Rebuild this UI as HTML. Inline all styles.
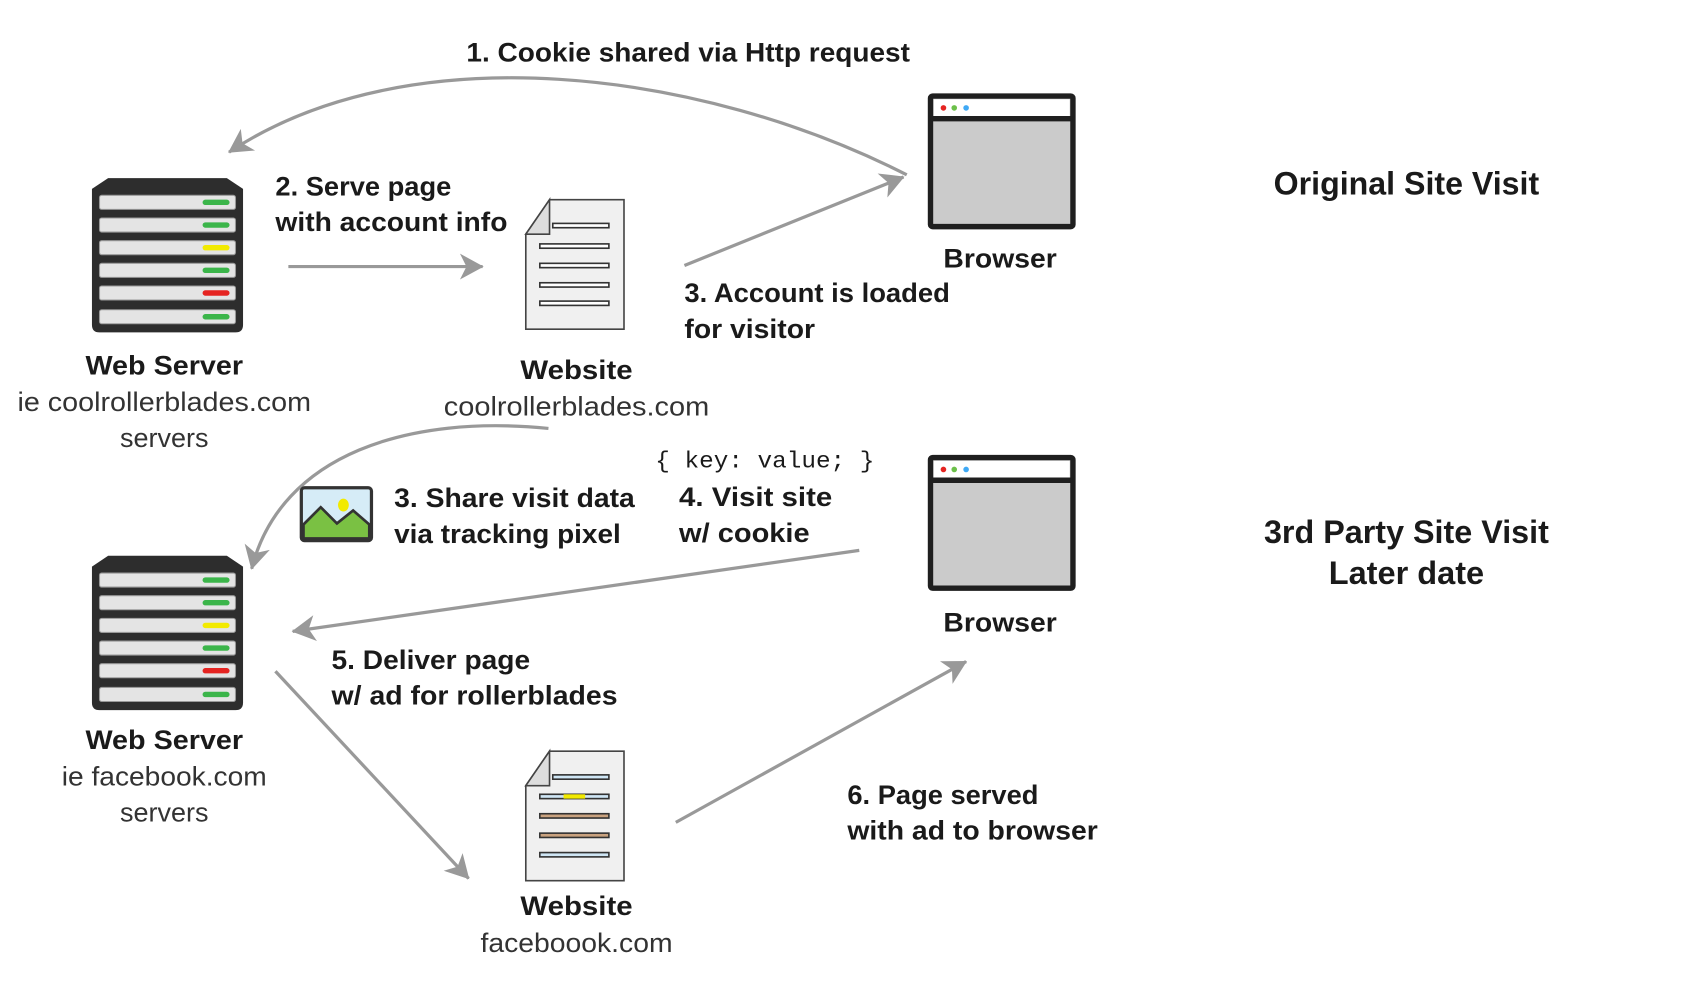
<!DOCTYPE html>
<html><head><meta charset="utf-8"><style>html,body{margin:0;padding:0;background:#fff;width:1684px;height:981px;overflow:hidden}</style></head><body>
<svg width="1684" height="981" viewBox="0 0 1560 909" xmlns="http://www.w3.org/2000/svg">
<defs>
<marker id="a" markerWidth="10" markerHeight="10" refX="7" refY="5" orient="auto" markerUnits="userSpaceOnUse" viewBox="0 0 10 10" style="overflow:visible">
<path d="M-14,-7 L8,5 L-14,17 L-8,5 Z" fill="#999"/>
</marker>
<g id="srv">
<path d="M100,0 L210,0 L225,10 L225,136 Q225,143 218,143 L92,143 Q85,143 85,136 L85,10 Z" fill="#2d2d2d"/>
<g fill="#e4e4e4" stroke="#999" stroke-width="1">
<rect x="92" y="16" width="126" height="13" rx="2"/><rect x="92" y="37" width="126" height="13" rx="2"/><rect x="92" y="58" width="126" height="13" rx="2"/><rect x="92" y="79" width="126" height="13" rx="2"/><rect x="92" y="100" width="126" height="13" rx="2"/><rect x="92" y="122" width="126" height="13" rx="2"/>
</g>
<g stroke-width="5" stroke-linecap="round">
<line x1="190" y1="22.5" x2="210" y2="22.5" stroke="#3bb54a"/><line x1="190" y1="43.5" x2="210" y2="43.5" stroke="#3bb54a"/><line x1="190" y1="64.5" x2="210" y2="64.5" stroke="#f2ea00"/><line x1="190" y1="85.5" x2="210" y2="85.5" stroke="#3bb54a"/><line x1="190" y1="106.5" x2="210" y2="106.5" stroke="#e52421"/><line x1="190" y1="128.5" x2="210" y2="128.5" stroke="#3bb54a"/>
</g>
</g>
<g id="brw">
<rect x="862" y="89" width="132" height="121" fill="#cbcbcb" stroke="#1f1f1f" stroke-width="5" rx="2"/>
<rect x="865" y="92" width="126" height="17" fill="#fff"/>
<line x1="862" y1="110" x2="994" y2="110" stroke="#1f1f1f" stroke-width="5"/>
<circle cx="874" cy="100" r="2.6" fill="#e52421"/><circle cx="884" cy="100" r="2.6" fill="#6cc04a"/><circle cx="895" cy="100" r="2.6" fill="#3fa9f5"/>
</g>
</defs>
<g fill="none" stroke="#999" stroke-width="3">
<path d="M840,162 C650,65 380,30 212,141" marker-end="url(#a)"/>
<path d="M267,247 L447,247" marker-end="url(#a)"/>
<path d="M634,246 L837,164" marker-end="url(#a)"/>
<path d="M508,397 C380,384 260,420 233,527" marker-end="url(#a)"/>
<path d="M796,510 L271,585" marker-end="url(#a)"/>
<path d="M255,622 L434,814" marker-end="url(#a)"/>
<path d="M626,762 L895,613" marker-end="url(#a)"/>
</g>
<use href="#srv" y="165"/>
<use href="#srv" y="515"/>
<use href="#brw"/>
<use href="#brw" y="335"/>
<g stroke="#444" stroke-width="1.5">
<path d="M509,185 L578,185 L578,305 L487,305 L487,217 Z" fill="#f0f0f0"/>
<path d="M509,185 L487,217 L509,217 Z" fill="#ddd"/>
</g>
<g fill="#fff" stroke="#333" stroke-width="1.5">
<rect x="512" y="207" width="52" height="4"/><rect x="500" y="226" width="64" height="4"/><rect x="500" y="244" width="64" height="4"/><rect x="500" y="262" width="64" height="4"/><rect x="500" y="279" width="64" height="4"/>
</g>
<g stroke="#444" stroke-width="1.5">
<path d="M509,696 L578,696 L578,816 L487,816 L487,728 Z" fill="#f0f0f0"/>
<path d="M509,696 L487,728 L509,728 Z" fill="#ddd"/>
</g>
<g stroke="#333" stroke-width="1.5">
<rect x="512" y="718" width="52" height="4" fill="#cfe6f5"/><rect x="500" y="736" width="64" height="4" fill="#cfe6f5"/><rect x="500" y="754" width="64" height="4" fill="#c9a27f"/><rect x="500" y="772" width="64" height="4" fill="#c9a27f"/><rect x="500" y="790" width="64" height="4" fill="#cfe6f5"/>
</g>
<rect x="522" y="736" width="20" height="4" fill="#f2ea00"/>
<rect x="279" y="452" width="65" height="49" rx="3" fill="#d6ecf7" stroke="#333" stroke-width="3"/>
<path d="M281,486 L297,470 L312,485 L327,473 L342,486 L342,499 L281,499 Z" fill="#7ac143" stroke="#333" stroke-width="2.5"/>
<ellipse cx="318" cy="468" rx="5" ry="6" fill="#f2ea00"/>
<g font-family="Liberation Sans, sans-serif" font-weight="bold" fill="#1a1a1a" font-size="25">
<text x="432" y="57" textLength="411" lengthAdjust="spacingAndGlyphs">1. Cookie shared via Http request</text>
<text x="255" y="181" textLength="163" lengthAdjust="spacingAndGlyphs">2. Serve page</text>
<text x="255" y="214" textLength="215" lengthAdjust="spacingAndGlyphs">with account info</text>
<text x="634" y="280" textLength="246" lengthAdjust="spacingAndGlyphs">3. Account is loaded</text>
<text x="634" y="313" textLength="121" lengthAdjust="spacingAndGlyphs">for visitor</text>
<text x="874" y="248" textLength="105" lengthAdjust="spacingAndGlyphs">Browser</text>
<text x="874" y="585" textLength="105" lengthAdjust="spacingAndGlyphs">Browser</text>
<text x="1180" y="180" font-size="30" textLength="246" lengthAdjust="spacingAndGlyphs">Original Site Visit</text>
<text x="1171" y="503" font-size="30" textLength="264" lengthAdjust="spacingAndGlyphs">3rd Party Site Visit</text>
<text x="1231" y="541" font-size="30" textLength="144" lengthAdjust="spacingAndGlyphs">Later date</text>
<text x="79" y="347" textLength="146" lengthAdjust="spacingAndGlyphs">Web Server</text>
<text x="482" y="351" textLength="104" lengthAdjust="spacingAndGlyphs">Website</text>
<text x="365" y="470" textLength="223" lengthAdjust="spacingAndGlyphs">3.  Share visit data</text>
<text x="365" y="503" textLength="210" lengthAdjust="spacingAndGlyphs">via tracking pixel</text>
<text x="629" y="469" textLength="142" lengthAdjust="spacingAndGlyphs">4.  Visit site</text>
<text x="629" y="502" textLength="121" lengthAdjust="spacingAndGlyphs">w/ cookie</text>
<text x="307" y="620" textLength="184" lengthAdjust="spacingAndGlyphs">5. Deliver page</text>
<text x="307" y="653" textLength="265" lengthAdjust="spacingAndGlyphs">w/ ad for rollerblades</text>
<text x="79" y="694" textLength="146" lengthAdjust="spacingAndGlyphs">Web Server</text>
<text x="785" y="745" textLength="177" lengthAdjust="spacingAndGlyphs">6. Page served</text>
<text x="785" y="778" textLength="232" lengthAdjust="spacingAndGlyphs">with ad to browser</text>
<text x="482" y="848" textLength="104" lengthAdjust="spacingAndGlyphs">Website</text>
</g>
<g font-family="Liberation Sans, sans-serif" fill="#333" font-size="25" text-anchor="middle">
<text x="152" y="381" textLength="272" lengthAdjust="spacingAndGlyphs">ie coolrollerblades.com</text>
<text x="152" y="414">servers</text>
<text x="534" y="385" textLength="246" lengthAdjust="spacingAndGlyphs">coolrollerblades.com</text>
<text x="152" y="728" textLength="190" lengthAdjust="spacingAndGlyphs">ie facebook.com</text>
<text x="152" y="761">servers</text>
<text x="534" y="882" textLength="178" lengthAdjust="spacingAndGlyphs">faceboook.com</text>
</g>
<text x="607" y="433" font-family="Liberation Mono, monospace" font-size="21" fill="#1a1a1a" textLength="203" lengthAdjust="spacingAndGlyphs">{ key: value; }</text>
</svg>
</body></html>
